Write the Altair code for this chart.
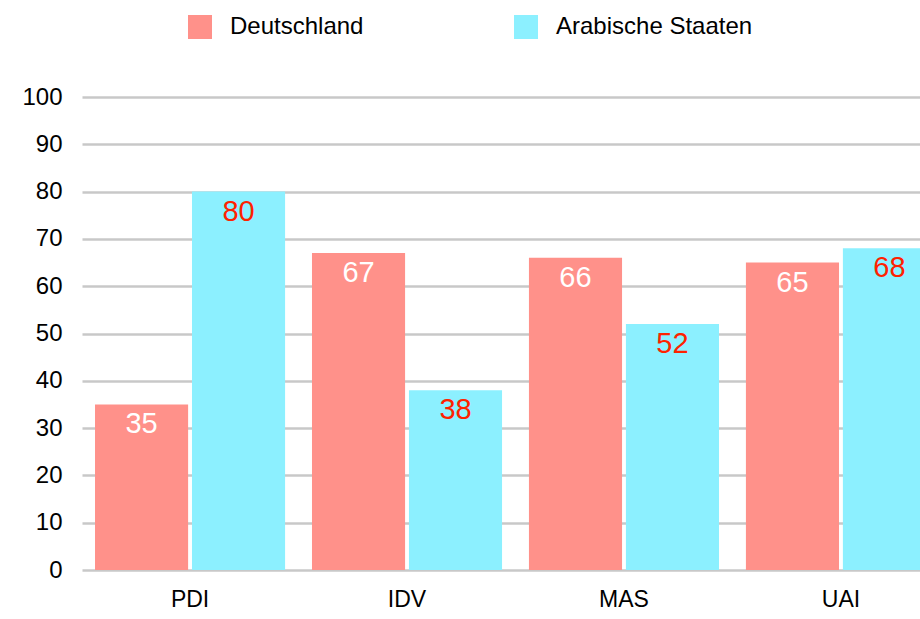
import altair as alt
import pandas as pd

categories = ["PDI", "IDV", "MAS", "UAI"]
series = ["Deutschland", "Arabische Staaten"]
deutschland = [35, 67, 66, 65]
arabische = [80, 38, 52, 68]
y_ticks = [0, 10, 20, 30, 40, 50, 60, 70, 80, 90, 100]

rows = []
for c, d, a in zip(categories, deutschland, arabische):
    rows.append({"Kategorie": c, "Land": series[0], "Wert": d})
    rows.append({"Kategorie": c, "Land": series[1], "Wert": a})
df = pd.DataFrame(rows)

FONT = "Liberation Sans"
colors = ["#FF918A", "#8CF0FF"]

x_enc = alt.X("Kategorie:N", sort=categories,
              scale=alt.Scale(range=[0, 867], paddingInner=0.124, paddingOuter=0.06),
              axis=alt.Axis(title=None, labelAngle=0, labelFontSize=23, labelColor="#000000",
                            labelFont=FONT, domain=False, ticks=False, grid=False,
                            labelPadding=18))
xoff = alt.XOffset("Land:N", sort=series, scale=alt.Scale(paddingInner=0.04))
y_enc = alt.Y("Wert:Q", scale=alt.Scale(domain=[0, 100], nice=False),
              axis=alt.Axis(title=None, values=y_ticks, labelFontSize=24, labelColor="#000000",
                            labelFont=FONT, domain=False, ticks=False, labelPadding=20,
                            grid=True, gridColor="#C8C8C8", gridWidth=2.5))

base = alt.Chart(df)

bars = base.mark_bar(opacity=1, fillOpacity=1).encode(
    x=x_enc,
    xOffset=xoff,
    y=y_enc,
    color=alt.Color("Land:N", sort=series,
                    scale=alt.Scale(domain=series, range=colors),
                    legend=alt.Legend(title=None, orient="none", direction="horizontal",
                                      legendX=106, legendY=-82, symbolType="square",
                                      symbolSize=576, symbolStrokeWidth=0,
                                      labelFontSize=24, labelFont=FONT, labelColor="#000000",
                                      labelLimit=0, columnPadding=150, labelOffset=18)),
)

labels = base.mark_text(fontSize=29, font=FONT, baseline="middle", dy=20).encode(
    x=alt.X("Kategorie:N", sort=categories),
    xOffset=alt.XOffset("Land:N", sort=series),
    y=alt.Y("Wert:Q"),
    text=alt.Text("Wert:Q"),
    color=alt.condition(alt.datum.Land == "Deutschland", alt.value("#FFFFFF"), alt.value("#FF2200")),
)

chart = alt.layer(bars, labels).properties(
    width=838, height=473,
    autosize=alt.AutoSizeParams(type="none"),
    padding={"left": 82, "top": 97, "right": 0, "bottom": 49},
).configure(background="#FFFFFF").configure_view(stroke="transparent", strokeWidth=0)

chart.save("out.html", embed_options={"renderer": "svg", "actions": False})
